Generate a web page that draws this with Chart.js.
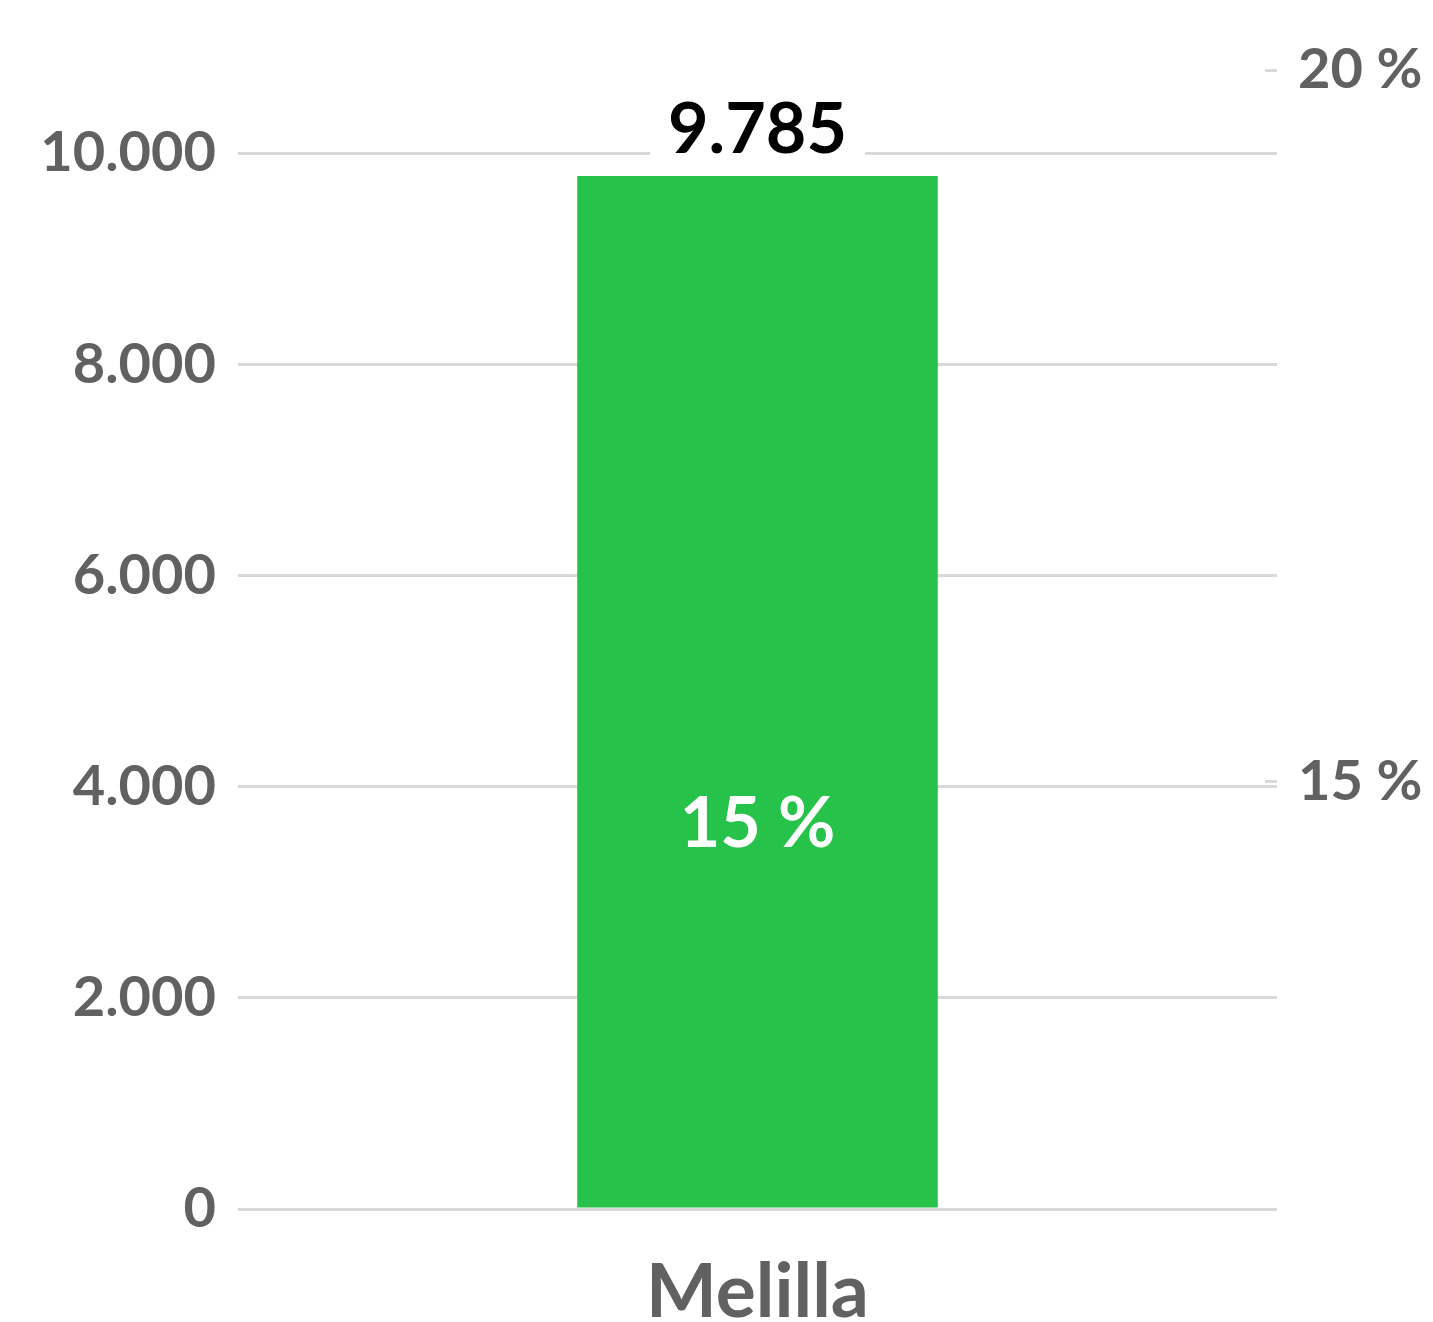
<!DOCTYPE html>
<html>
<head>
<meta charset="utf-8">
<script src="https://cdn.jsdelivr.net/npm/chart.js@4/dist/chart.umd.min.js"></script>
<style>
  html, body { margin: 0; padding: 0; background: #fff; }
  #wrap { width: 1433px; height: 1322px; }
</style>
</head>
<body>
<div id="wrap"><canvas id="chart" width="1433" height="1322"></canvas></div>
<script>
// ---- datos ----
const categories = ['Melilla'];
const totals = [9785];          // barras, eje izquierdo
const shares = [14.7];          // porcentaje, eje derecho (se muestra redondeado)
const leftTicks = [0, 2000, 4000, 6000, 8000, 10000];
const rightTicks = [15, 20];
const leftMax = 10790;
const rightMin = 12;
const rightMax = 20;

const GREY = '#616161';
const GRID = '#d9d9d9';
const FONT = 'Lato, "Open Sans", sans-serif';

// separador de miles con punto
const fmt = v => String(Math.round(v)).replace(/\B(?=(\d{3})+(?!\d))/g, '.');

// etiquetas de datos: total encima de la barra, porcentaje dentro
const labelsPlugin = {
  id: 'dataLabels',
  afterDatasetsDraw(chart) {
    const ctx = chart.ctx;
    ctx.save();
    ctx.textAlign = 'center';
    ctx.textBaseline = 'middle';

    const bars = chart.getDatasetMeta(0).data;
    bars.forEach((bar, i) => {
      const txt = fmt(totals[i]);
      ctx.font = 'bold 70px ' + FONT;
      const w = ctx.measureText(txt).width;
      const cy = bar.y - 46;
      ctx.fillStyle = '#fff';
      ctx.fillRect(bar.x - w / 2 - 18, cy - 30, w + 36, 58);
      ctx.fillStyle = '#000';
      ctx.fillText(txt, bar.x, cy);
    });

    const pts = chart.getDatasetMeta(1).data;
    pts.forEach((p, i) => {
      ctx.font = 'bold 70px ' + FONT;
      ctx.fillStyle = '#fff';
      ctx.fillText(Math.round(shares[i]) + ' %', p.x, p.y);
    });
    ctx.restore();
  }
};

new Chart(document.getElementById('chart'), {
  type: 'bar',
  data: {
    labels: categories,
    datasets: [
      {
        label: 'Total',
        data: totals,
        backgroundColor: '#26c24a',
        borderWidth: 0,
        barPercentage: 0.347,
        categoryPercentage: 1,
        yAxisID: 'y',
        order: 2,
      },
      {
        type: 'line',
        label: '%',
        data: shares,
        showLine: false,
        pointRadius: 0,
        yAxisID: 'y2',
        order: 1,
      },
    ],
  },
  options: {
    responsive: false,
    animation: false,
    layout: { padding: { top: 70, left: 0, right: 0, bottom: 0 } },
    plugins: {
      legend: { display: false },
      tooltip: { enabled: false },
    },
    scales: {
      x: {
        grid: { display: false },
        border: { display: false },
        ticks: {
          color: GREY,
          padding: 31,
          font: { family: FONT, size: 75, weight: 'bold' },
        },
        afterFit: s => { s.height = 113; },
      },
      y: {
        position: 'left',
        min: 0,
        max: leftMax,
        afterBuildTicks: s => { s.ticks = leftTicks.map(v => ({ value: v })); },
        grid: { color: GRID, lineWidth: 3, drawTicks: false },
        border: { display: false },
        ticks: {
          color: GREY,
          padding: 22,
          font: { family: FONT, size: 56, weight: 'bold' },
          callback: v => fmt(v),
        },
        afterFit: s => { s.width = 238; },
      },
      y2: {
        position: 'right',
        min: rightMin,
        max: rightMax,
        afterBuildTicks: s => { s.ticks = rightTicks.map(v => ({ value: v })); },
        grid: { drawOnChartArea: false, color: GRID, lineWidth: 3, tickLength: -12 },
        border: { display: false },
        ticks: {
          color: GREY,
          padding: 33,
          font: { family: FONT, size: 56, weight: 'bold' },
          callback: v => v + ' %',
        },
        afterFit: s => { s.width = 156; },
      },
    },
  },
  plugins: [labelsPlugin],
});
</script>
</body>
</html>
